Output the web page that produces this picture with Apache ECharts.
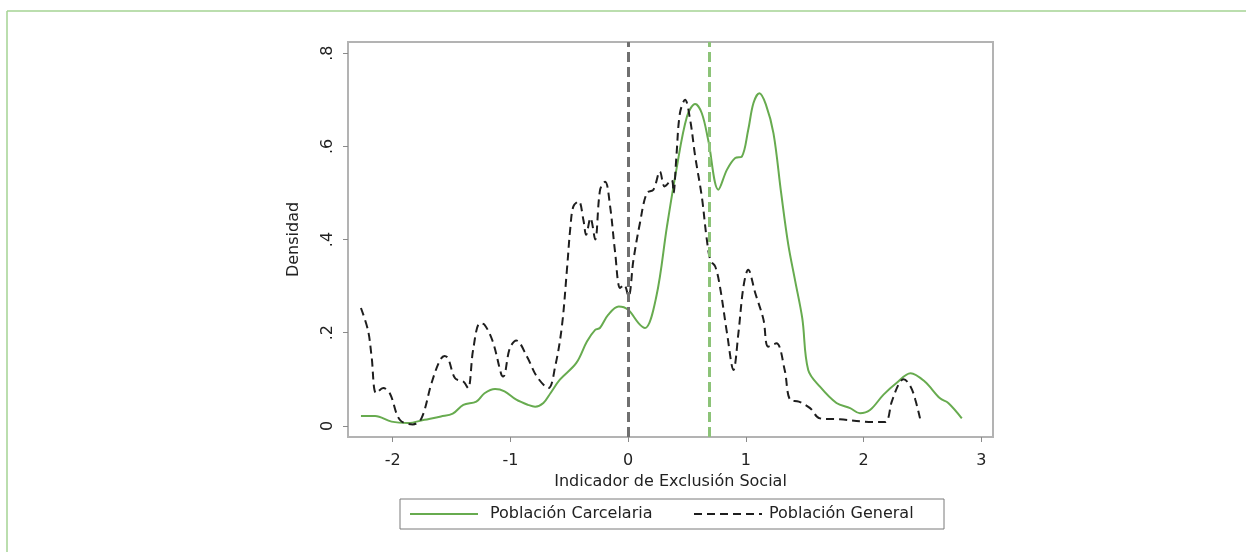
<!DOCTYPE html>
<html>
<head>
<meta charset="utf-8">
<script src="https://cdn.jsdelivr.net/npm/echarts@6/dist/echarts.min.js"></script>
<style>
html,body{margin:0;padding:0;background:#fff;}
#chart{width:1246px;height:552px;}
</style>
</head>
<body>
<div id="chart"></div>
<script>
// ---- data ----
const xTickValues = [-2, -1, 0, 1, 2, 3];
const xTickLabels = ['-2', '-1', '0', '1', '2', '3'];
const yTickValues = [0, 0.2, 0.4, 0.6, 0.8];
const yTickLabels = ['0', '.2', '.4', '.6', '.8'];

const seriesNames = ['Población Carcelaria', 'Población General'];

const carcelariaX = [-2.27,-2.15,-2.01,-1.87,-1.73,-1.59,-1.49,-1.40,-1.29,-1.22,-1.13,-1.05,-0.95,-0.85,-0.79,-0.72,-0.66,-0.58,-0.44,-0.35,-0.28,-0.24,-0.17,-0.08,0.0,0.09,0.144,0.24,0.33,0.41,0.50,0.57,0.626,0.68,0.767,0.84,0.91,0.966,1.02,1.065,1.115,1.17,1.235,1.30,1.36,1.42,1.48,1.53,1.63,1.77,1.886,1.97,2.055,2.17,2.28,2.40,2.52,2.65,2.72,2.835];
const carcelariaY = [0.021,0.021,0.009,0.006,0.013,0.02,0.026,0.045,0.052,0.07,0.079,0.074,0.056,0.045,0.041,0.049,0.07,0.099,0.135,0.181,0.206,0.21,0.238,0.256,0.249,0.22,0.21,0.278,0.428,0.55,0.664,0.691,0.671,0.614,0.507,0.55,0.575,0.578,0.635,0.693,0.714,0.69,0.628,0.50,0.39,0.31,0.23,0.12,0.084,0.049,0.038,0.027,0.034,0.067,0.092,0.113,0.095,0.059,0.049,0.016];

const generalX = [-2.27,-2.21,-2.18,-2.14,-2.08,-2.025,-1.94,-1.83,-1.756,-1.67,-1.60,-1.56,-1.53,-1.47,-1.40,-1.36,-1.317,-1.26,-1.22,-1.15,-1.076,-1.06,-1.005,-0.95,-0.86,-0.776,-0.677,-0.62,-0.563,-0.52,-0.49,-0.465,-0.42,-0.38,-0.357,-0.32,-0.28,-0.238,-0.195,-0.153,-0.11,-0.068,-0.034,0.003,0.045,0.10,0.159,0.215,0.27,0.31,0.37,0.385,0.41,0.44,0.484,0.527,0.57,0.626,0.669,0.70,0.74,0.78,0.84,0.895,0.937,0.98,1.02,1.08,1.15,1.19,1.26,1.33,1.376,1.45,1.546,1.63,1.80,2.0,2.18,2.24,2.30,2.34,2.40,2.44,2.48];
const generalY = [0.253,0.205,0.15,0.07,0.081,0.07,0.013,0.003,0.016,0.092,0.14,0.15,0.145,0.102,0.095,0.081,0.163,0.22,0.217,0.181,0.109,0.106,0.167,0.183,0.149,0.106,0.081,0.127,0.213,0.335,0.428,0.471,0.482,0.442,0.41,0.446,0.40,0.507,0.524,0.471,0.371,0.296,0.303,0.278,0.356,0.435,0.50,0.507,0.546,0.514,0.528,0.50,0.578,0.671,0.70,0.657,0.578,0.492,0.399,0.355,0.342,0.299,0.199,0.12,0.199,0.299,0.335,0.285,0.228,0.17,0.177,0.12,0.056,0.052,0.038,0.016,0.014,0.009,0.008,0.052,0.09,0.10,0.084,0.056,0.016];

const refLineGeneral = [0];
const refLineCarcelaria = [0.686];

// ---- chart ----
const FONT = 'DejaVu Sans';
const pairs = (xs, ys) => xs.map((x, i) => [x, ys[i]]);
const chart = echarts.init(document.getElementById('chart'), null, {renderer: 'canvas'});

chart.setOption({
  animation: false,
  backgroundColor: '#ffffff',
  textStyle: {fontFamily: FONT},
  graphic: [
    {type: 'line', silent: true, shape: {x1: 7, y1: 11, x2: 1246, y2: 11}, style: {stroke: '#a5d393', lineWidth: 1.5}},
    {type: 'line', silent: true, shape: {x1: 7, y1: 11, x2: 7, y2: 552}, style: {stroke: '#a5d393', lineWidth: 1.5}}
  ],
  grid: {
    left: 348, top: 42, right: 253, bottom: 115,
    show: true, borderColor: '#b3b3b3', borderWidth: 2, backgroundColor: '#ffffff',
    containLabel: false
  },
  legend: {
    left: 400, top: 499,
    orient: 'horizontal',
    padding: [6, 12, 6, 9],
    itemGap: 28,
    itemWidth: 68,
    itemHeight: 14,
    borderColor: '#7a7a7a', borderWidth: 1,
    backgroundColor: '#ffffff',
    itemStyle: {opacity: 0},
    data: [
      {name: seriesNames[0], textStyle: {width: 175, padding: [0, 0, 0, 7]}},
      {name: seriesNames[1], textStyle: {width: 163, padding: [0, 0, 0, 2]}}
    ],
    textStyle: {fontFamily: FONT, fontSize: 16, color: '#222', lineHeight: 18}
  },
  xAxis: {
    type: 'value',
    min: -2.38, max: 3.10,
    name: 'Indicador de Exclusión Social',
    nameLocation: 'middle',
    nameGap: 31,
    nameTextStyle: {fontFamily: FONT, fontSize: 16, color: '#222'},
    axisLine: {show: false, onZero: false},
    splitLine: {show: false},
    axisTick: {show: true, customValues: xTickValues, length: 5, lineStyle: {color: '#8a8a8a', width: 1}},
    axisLabel: {
      customValues: xTickValues,
      margin: 16,
      fontFamily: FONT, fontSize: 16, color: '#222',
      formatter: v => xTickLabels[xTickValues.findIndex(t => Math.abs(t - v) < 1e-9)]
    }
  },
  yAxis: {
    type: 'value',
    min: -0.024, max: 0.824,
    name: 'Densidad',
    nameLocation: 'middle',
    nameRotate: 90,
    nameGap: 46,
    nameTextStyle: {fontFamily: FONT, fontSize: 16, color: '#222'},
    axisLine: {show: false, onZero: false},
    splitLine: {show: false},
    axisTick: {show: true, customValues: yTickValues, length: 5, lineStyle: {color: '#8a8a8a', width: 1}},
    axisLabel: {
      customValues: yTickValues,
      rotate: 90,
      margin: 12,
      fontFamily: FONT, fontSize: 16, color: '#222',
      formatter: v => yTickLabels[yTickValues.findIndex(t => Math.abs(t - v) < 1e-9)]
    }
  },
  series: [
    {
      name: seriesNames[0],
      type: 'line',
      data: pairs(carcelariaX, carcelariaY),
      showSymbol: false, symbol: 'none',
      smooth: 0.35,
      color: '#67ab4f',
      lineStyle: {color: '#67ab4f', width: 2},
      z: 3,
      markLine: {
        silent: true, symbol: ['none', 'none'], label: {show: false},
        lineStyle: {color: '#8cc378', type: [10, 5], width: 3},
        data: refLineCarcelaria.map(v => ({xAxis: v}))
      }
    },
    {
      name: seriesNames[1],
      type: 'line',
      data: pairs(generalX, generalY),
      showSymbol: false, symbol: 'none',
      smooth: 0.35,
      color: '#1e1e1e',
      lineStyle: {color: '#1e1e1e', width: 2, type: [8, 5]},
      z: 4,
      markLine: {
        silent: true, symbol: ['none', 'none'], label: {show: false},
        lineStyle: {color: '#707070', type: [10, 5], width: 3},
        data: refLineGeneral.map(v => ({xAxis: v}))
      }
    }
  ]
});
</script>
</body>
</html>
